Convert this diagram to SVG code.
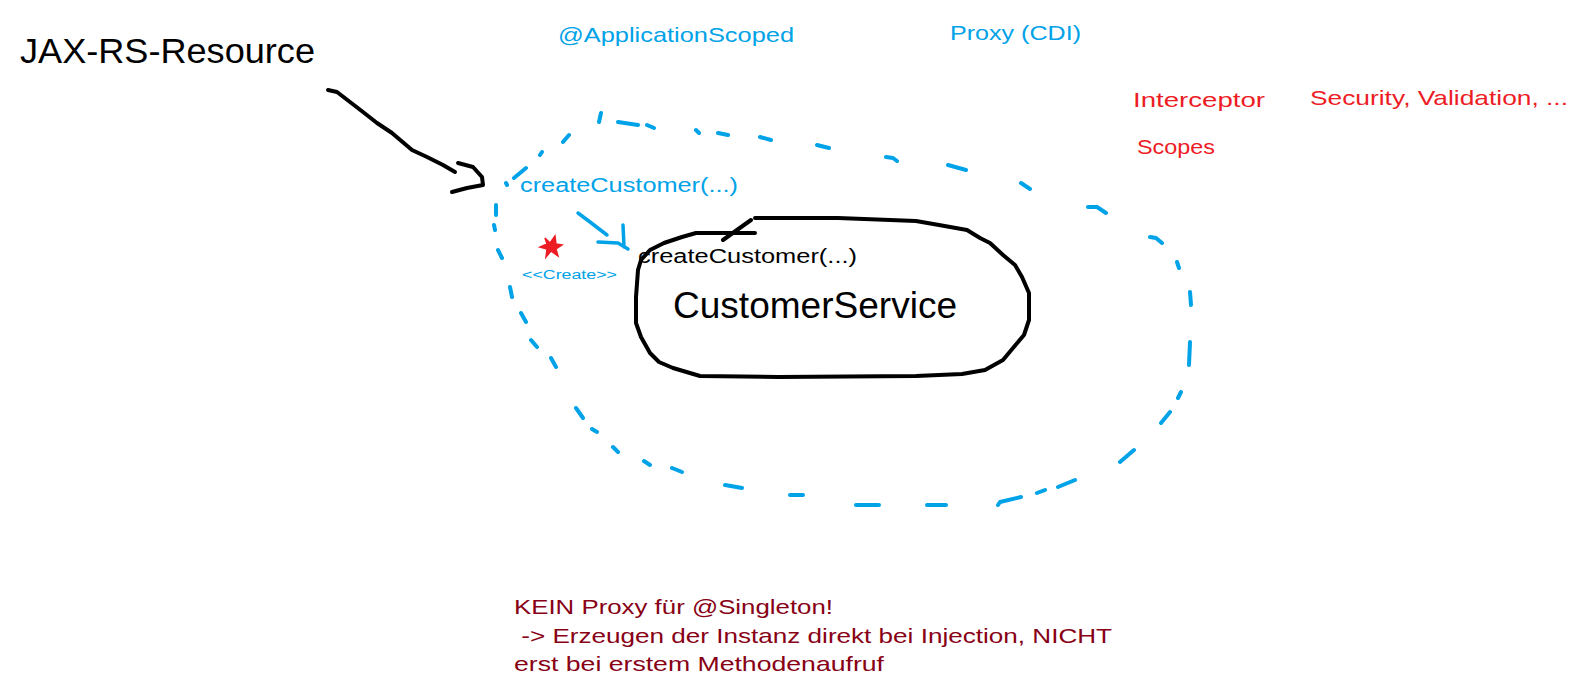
<svg xmlns="http://www.w3.org/2000/svg" width="1593" height="692" viewBox="0 0 1593 692">
<style>
text{font-family:"Liberation Sans",Arial,sans-serif}
.blue{fill:#00A2E8}
.red{fill:#ED1C24}
.dred{fill:#880015}
.blk{fill:#000}
.dash{fill:none;stroke:#00A2E8;stroke-width:4;stroke-linecap:round;stroke-linejoin:round}
.ink{fill:none;stroke:#000;stroke-width:4;stroke-linecap:round;stroke-linejoin:round}
.bink{fill:none;stroke:#00A2E8;stroke-width:3.5;stroke-linecap:round;stroke-linejoin:round}
</style>
<rect width="1593" height="692" fill="#fff"/>
<g id="jaxrs-resource">
<text x="20" y="63" font-size="35" textLength="295" lengthAdjust="spacingAndGlyphs" class="blk">JAX-RS-Resource</text>
</g>
<g id="labels-top">
<text x="558" y="42" font-size="21" textLength="236" lengthAdjust="spacingAndGlyphs" class="blue">@ApplicationScoped</text>
<text x="950" y="40" font-size="21" textLength="131" lengthAdjust="spacingAndGlyphs" class="blue">Proxy (CDI)</text>
</g>
<g id="labels-red">
<text x="1133" y="107" font-size="20" textLength="132" lengthAdjust="spacingAndGlyphs" class="red">Interceptor</text>
<text x="1310" y="105" font-size="21" textLength="258" lengthAdjust="spacingAndGlyphs" class="red">Security, Validation, ...</text>
<text x="1137" y="154" font-size="21" textLength="78" lengthAdjust="spacingAndGlyphs" class="red">Scopes</text>
</g>
<g id="proxy">
<path class="dash" d="M601,113 L599,122 M618,122 L638,125 M647,125 L654,128 M696,130 L699,133 M718,133 L728,135 M760,137 L771,140 M817,145 L829,148 M886,157 L893,158 L897,161 M948,165 L966,170 M1021,183 L1030,189 M1088,207 L1097,207 L1106,213 M1150,237 L1156,238 L1162,243 M1177,262 L1179,268 M1190,292 L1191,305 M1190,342 L1189,365 M1181,392 L1178,398 M1170,412 L1161,423 M1134,450 L1120,462 M1075,480 L1058,487 M1045,490 L1037,493 M1021,497 L1000,502 L998,505 M946,505 L927,505 M879,505 L856,505 M803,495 L790,495 M742,488 L725,485 M682,472 L672,468 M650,465 L644,461 M618,452 L613,447 M597,432 L592,429 M583,418 L576,408 M556,367 L551,358 M537,347 L531,340 M526,322 L521,313 M512,297 L510,287 M502,258 L498,250 M495,230 L494,225 M496,215 L496,205 M507,185 L506,183 M514,178 L526,168 M540,155 L542,152 M563,142 L569,135"/>
<text x="520" y="192" font-size="20" textLength="218" lengthAdjust="spacingAndGlyphs" class="blue">createCustomer(...)</text>
<path d="M545,238 L550,243 L555,236 L556,244 L562,245 L556,249 L558,256 L551,251 L546,257 L547,249 L540,247 L547,244 Z" fill="#ED1C24" stroke="#ED1C24" stroke-width="1.5"/>
<text x="522" y="279" font-size="12.5" textLength="95" lengthAdjust="spacingAndGlyphs" class="blue">&lt;&lt;Create&gt;&gt;</text>
</g>
<g id="customer-service">
<path class="ink" d="M696,233 L755,233 M723,240 L751,220 M755,218 L838,218 L916,221 L939,225 L967,230 L980,238 L990,243 L1003,255 L1015,265 L1022,277 L1029,293 L1029,320 L1024,335 L1013,348 L1003,360 L985,370 L962,374 L916,376 L778,377 L700,376 L673,368 L659,362 L650,353 L641,337 L636,323 L636,297 L638,270 L641,260 L650,250 L664,243 L682,237 L696,233"/>
<text x="638" y="263" font-size="20" textLength="219" lengthAdjust="spacingAndGlyphs" class="blk">createCustomer(...)</text>
<text x="673" y="318" font-size="37" textLength="284" lengthAdjust="spacingAndGlyphs" class="blk">CustomerService</text>
</g>
<g id="connectors">
<path class="ink" d="M328,90 L337,92 L350,102 L363,112 L377,123 L392,133 L412,150 L427,157 L443,165 L455,172 M458,163 L473,167 L482,177 L483,185 L467,188 L452,192"/>
<path class="bink" d="M578,213 L590,222 L607,235 M598,242 L618,243 L628,249 M623,225 L624,247"/>
</g>
<g id="note">
<text x="514" y="614" font-size="21" textLength="319" lengthAdjust="spacingAndGlyphs" class="dred">KEIN Proxy für @Singleton!</text>
<text x="514" y="643" font-size="21" textLength="598" lengthAdjust="spacingAndGlyphs" class="dred" xml:space="preserve"> -&gt; Erzeugen der Instanz direkt bei Injection, NICHT</text>
<text x="514" y="671" font-size="21" textLength="370" lengthAdjust="spacingAndGlyphs" class="dred">erst bei erstem Methodenaufruf</text>
</g>
</svg>
